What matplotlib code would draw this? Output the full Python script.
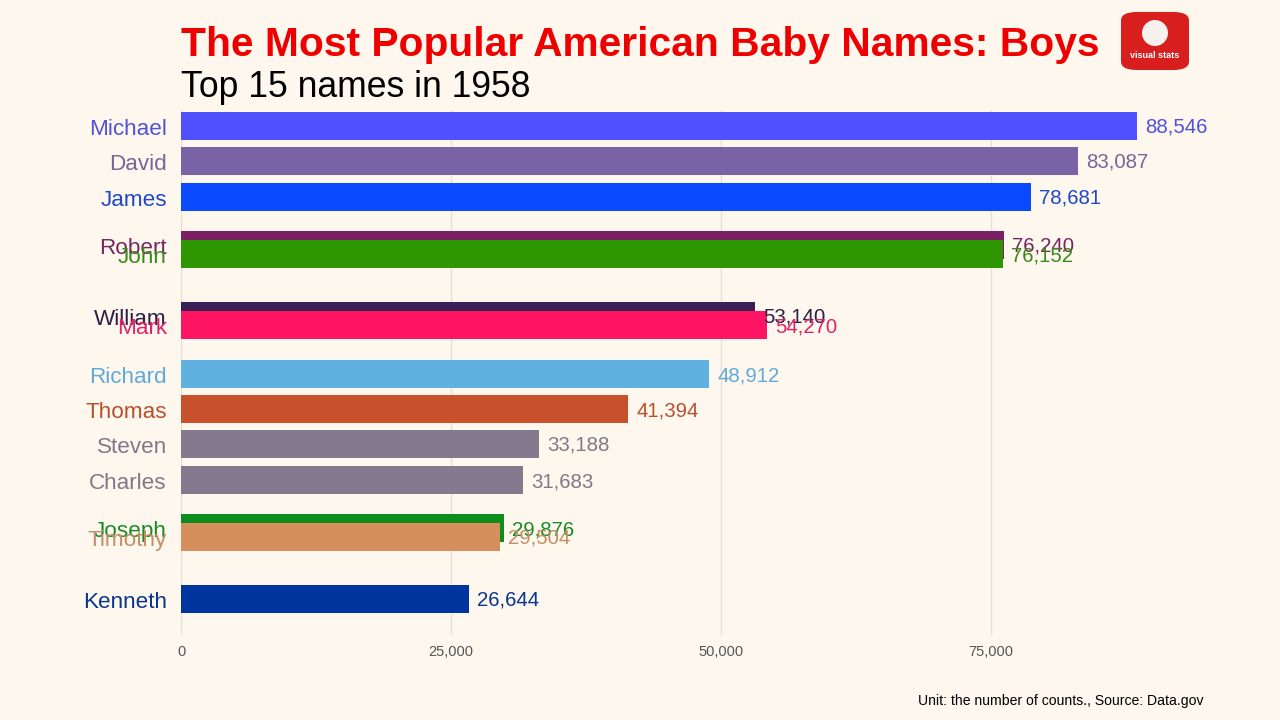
import matplotlib.pyplot as plt
from matplotlib.patches import FancyBboxPatch, Circle
from matplotlib.transforms import offset_copy

plt.rcParams['font.family'] = ['Liberation Sans', 'DejaVu Sans']

# frame of the 1958 race, positions are the animated rank slots
names = ["Michael", "David", "James", "Robert", "John", "William", "Mark", "Richard",
         "Thomas", "Steven", "Charles", "Joseph", "Timothy", "Kenneth"]
counts = [88546, 83087, 78681, 76240, 76152, 53140, 54270, 48912,
          41394, 33188, 31683, 29876, 29504, 26644]
ranks = [1.0, 1.99, 3.01, 4.37, 4.63, 6.38, 6.64, 8.03,
         9.02, 10.0, 11.03, 12.39, 12.64, 14.4]
colors = ["#5050FF", "#7962A6", "#0A4BFF", "#7B2063", "#2E9600", "#3A1F55", "#FF1463", "#5FB1E0",
          "#C8502A", "#837A8E", "#837A8E", "#0F8C1E", "#D48F5D", "#00349E"]
label_colors = ["#5252D8", "#776699", "#1F47C8", "#75285E", "#3A8A1A", "#2E1F45", "#E0246A", "#5FAADA",
                "#B8502E", "#807A88", "#807A88", "#1A8A28", "#C48E66", "#0A3590"]
ticks = [0, 25000, 50000, 75000]

bg = "#FDF7EE"
fig = plt.figure(figsize=(12.8, 7.2), dpi=100, facecolor=bg)
ax = fig.add_axes([181 / 1280, 1 - 635 / 720, 1000 / 1280, 525 / 720])
ax.set_facecolor(bg)

ax.set_xlim(0, 1000 / 0.0108)
ax.set_ylim(15.42, 0.547)

for t in ticks:
    ax.axvline(t, color="#E6DFD4", lw=1, zorder=0)

# text baselines sit a bit below the bar centre
name_tr = offset_copy(ax.transData, fig=fig, x=-14, y=-9, units="dots")
val_tr = offset_copy(ax.transData, fig=fig, x=8, y=-7, units="dots")

for n, c, r, col, lc in zip(names, counts, ranks, colors, label_colors):
    ax.barh(r, c, height=0.79, color=col, zorder=2)
    ax.text(0, r, n, ha="right", va="baseline", fontsize=16.2, color=lc, zorder=3,
            transform=name_tr)
    ax.text(c, r, f"{c:,}", ha="left", va="baseline", fontsize=14.7, color=lc, zorder=3,
            transform=val_tr)

ax.set_xticks(ticks)
ax.set_xticklabels([f"{t:,}" for t in ticks])
ax.tick_params(axis="x", length=0, pad=7, labelsize=10.5, labelcolor="#555555")
ax.set_yticks([])
for s in ax.spines.values():
    s.set_visible(False)

fig.text(181 / 1280, 1 - 56 / 720, "The Most Popular American Baby Names: Boys",
         fontsize=29.3, fontweight="bold", color="#EE0000", ha="left", va="baseline")
fig.text(181 / 1280, 1 - 97 / 720, "Top 15 names in 1958",
         fontsize=25.6, color="black", ha="left", va="baseline")
fig.text(1203 / 1280, 1 - 705 / 720, "Unit: the number of counts., Source: Data.gov",
         fontsize=10.1, color="black", ha="right", va="baseline")

# logo
logo = FancyBboxPatch((1121 / 1280, 1 - 70 / 720), 68 / 1280, 58 / 720,
                      boxstyle="round,pad=0,rounding_size=0.012",
                      transform=fig.transFigure, facecolor="#D91E1E", edgecolor="none")
fig.patches.append(logo)
circ = Circle((11.55, 7.2 - 0.33), 0.13, transform=fig.dpi_scale_trans,
              facecolor="#F7F1EE", edgecolor="none")
fig.patches.append(circ)
fig.text(1155 / 1280, 1 - 56 / 720, "visual stats", fontsize=6.5, fontweight="bold",
         color="white", ha="center", va="center")

fig.savefig("out.png", dpi=100, facecolor=bg)
